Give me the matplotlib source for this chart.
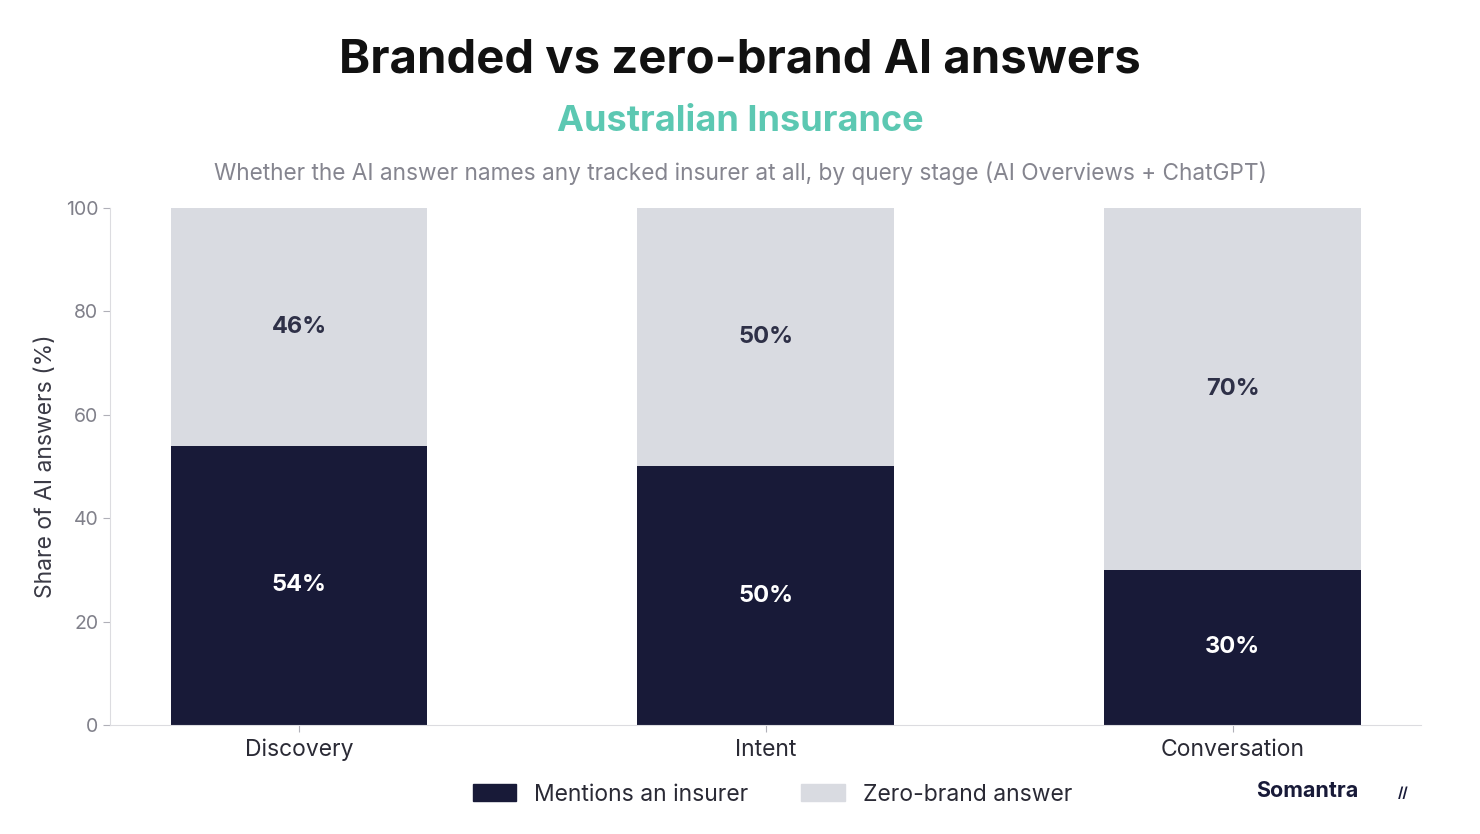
import numpy as np
import matplotlib
matplotlib.use("Agg")
import matplotlib.pyplot as plt
from matplotlib.patches import Patch

plt.rcParams['font.family'] = ['Inter', 'DejaVu Sans']

# Data
stages = ['Discovery', 'Intent', 'Conversation']
mentions = [54, 50, 30]
zero_brand = [46, 50, 70]
yticks = [0, 20, 40, 60, 80, 100]

navy = '#181a38'
light = '#d9dbe1'
grey_txt = '#80808a'

fig = plt.figure(figsize=(14.8, 8.34), dpi=100)
ax = fig.add_axes([0.0743, 0.1307, 0.8857, 0.6199])

x = np.arange(len(stages))
w = 0.55
ax.bar(x, mentions, width=w, color=navy, label='Mentions an insurer')
ax.bar(x, zero_brand, width=w, bottom=mentions, color=light, label='Zero-brand answer')

for xi, m, z in zip(x, mentions, zero_brand):
    ax.text(xi, m / 2, f'{m}%', ha='center', va='center', color='white',
            fontsize=17, fontweight='bold')
    ax.text(xi, m + z / 2, f'{z}%', ha='center', va='center', color='#2e3047',
            fontsize=17, fontweight='bold')

ax.set_xlim(-0.405, 2.403)
ax.set_ylim(0, 100)
ax.set_yticks(yticks)
ax.set_xticks(x)
ax.set_xticklabels(stages, fontsize=16.5, color='#2a2a35')
ax.tick_params(axis='y', labelsize=14, labelcolor=grey_txt, color='#b0b0b8', length=5)
ax.tick_params(axis='x', color='#b0b0b8', length=5, pad=5)
for s in ['top', 'right']:
    ax.spines[s].set_visible(False)
for s in ['left', 'bottom']:
    ax.spines[s].set_color('#dcdce0')
ax.set_ylabel('Share of AI answers (%)', fontsize=16.5, color='#3a3a45', labelpad=6)

fig.text(0.5, 0.928, 'Branded vs zero-brand AI answers', ha='center', va='center',
         fontsize=34, fontweight='bold', color='#111111')
fig.text(0.5, 0.854, 'Australian Insurance', ha='center', va='center',
         fontsize=26, fontweight='bold', color='#5cc8b2')
fig.text(0.5, 0.792, 'Whether the AI answer names any tracked insurer at all, by query stage (AI Overviews + ChatGPT)',
         ha='center', va='center', fontsize=16.3, color='#85858f')

handles = [Patch(color=navy), Patch(color=light)]
fig.legend(handles, ['Mentions an insurer', 'Zero-brand answer'], loc='center',
           bbox_to_anchor=(0.522, 0.047), ncol=2, frameon=False, fontsize=16.5,
           handlelength=1.9, handleheight=0.75, columnspacing=2.3, labelcolor='#2a2a35')

fig.text(0.849, 0.051, 'Somantra', ha='left', va='center', fontsize=15.5,
         fontweight='bold', color=navy)
fig.text(0.948, 0.049, '//', ha='center', va='center', fontsize=10,
         fontweight='bold', color=navy)

fig.savefig('out.png', dpi=100)
